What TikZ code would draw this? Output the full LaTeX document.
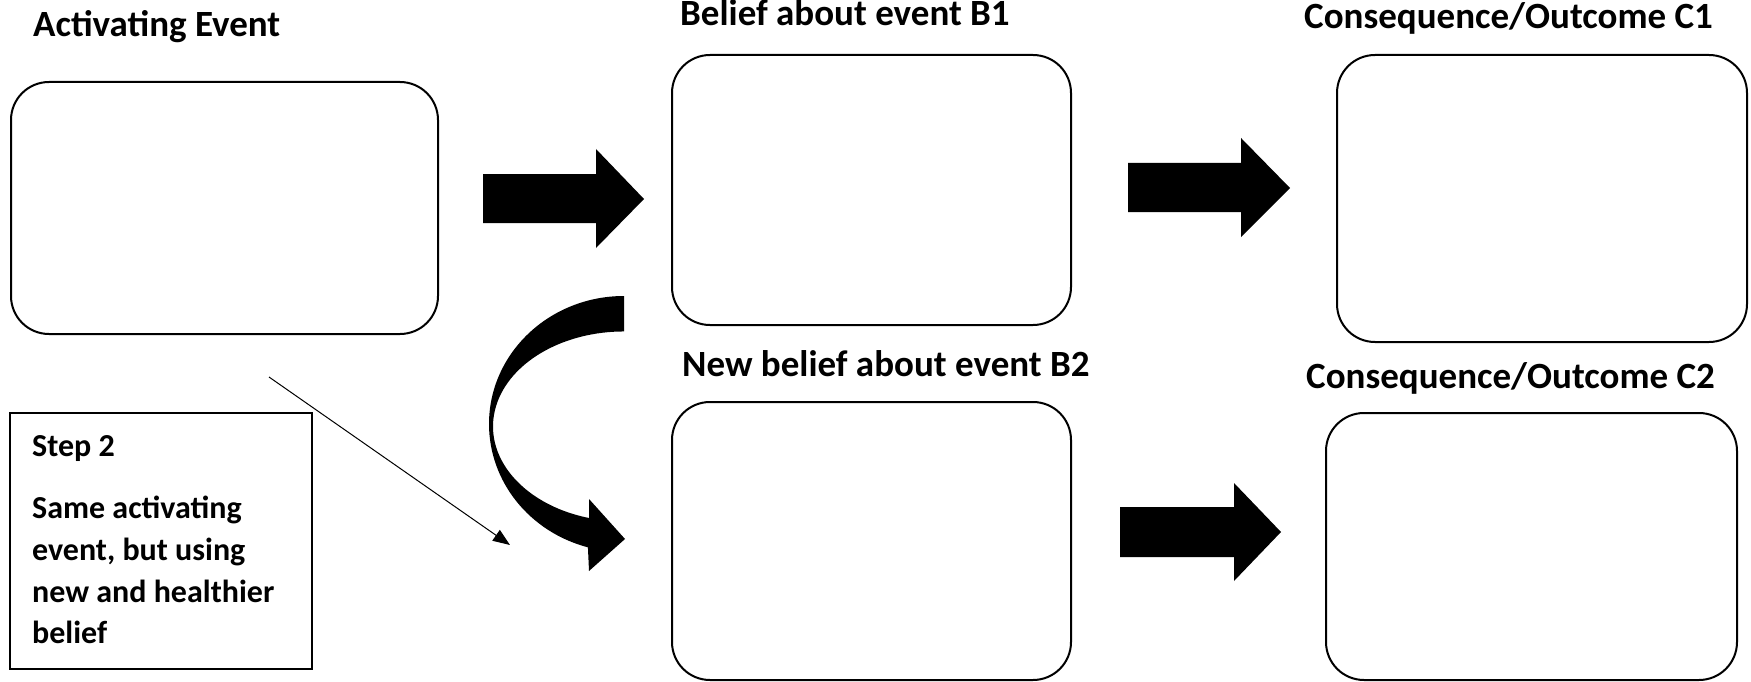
\documentclass[tikz,border=0pt]{standalone}
\usepackage{fontspec}
\setmainfont{Carlito}
\usetikzlibrary{arrows.meta}
\tikzset{
  rbox/.style={draw=black, line width=2pt, rounded corners=38pt, fill=white, inner sep=0pt},
  sbox/.style={draw=black, line width=2pt, fill=white, inner sep=0pt},
  title/.style={anchor=base west, inner sep=0pt, font=\fontsize{37}{44}\selectfont\bfseries},
  steptxt/.style={anchor=base west, inner sep=0pt, font=\fontsize{32}{40}\selectfont\bfseries},
  blockarrow/.style={fill=black},
  thinarrow/.style={draw=black, line width=1pt, -{Triangle[length=17pt,width=13pt]}}
}
\begin{document}
\begin{tikzpicture}[x=1pt,y=-1pt]
\useasboundingbox[fill=white] (0,0) rectangle (1751,682);
% boxes
\node[rbox, minimum width=427pt, minimum height=252pt] (A) at (224.5,208) {};
\node[rbox, minimum width=399pt, minimum height=270pt] (B1) at (871.5,190) {};
\node[rbox, minimum width=410pt, minimum height=287pt] (C1) at (1542,198.5) {};
\node[rbox, minimum width=399pt, minimum height=278pt] (B2) at (871.5,541) {};
\node[rbox, minimum width=411pt, minimum height=267pt] (C2) at (1531.5,546.5) {};
\node[sbox, minimum width=302pt, minimum height=256pt] (S) at (161,541) {};
% titles
\node[title] (tA) at (33,37) {Activating Event};
\node[title] (tB1) at (680,26) {Belief about event B1};
\node[title] (tC1) at (1304,29) {Consequence/Outcome C1};
\node[title] (tB2) at (682,376) {New belief about event B2};
\node[title] (tC2) at (1306,388) {Consequence/Outcome C2};
% step text
\node[steptxt] (s1) at (32,456) {Step 2};
\node[steptxt] (s2) at (32,518) {Same activating};
\node[steptxt] (s3) at (32,560) {event, but using};
\node[steptxt] (s4) at (32,602) {new and healthier};
\node[steptxt] (s5) at (32,643) {belief};
% block arrows
\fill[blockarrow] (483,174) -- (596,174) -- (596,149) -- (644,199) -- (596,248) -- (596,223) -- (483,223) -- cycle;
\fill[blockarrow] (1128,163) -- (1241,163) -- (1241,138) -- (1290,188) -- (1241,237) -- (1241,212) -- (1128,212) -- cycle;
\fill[blockarrow] (1120,507) -- (1234,507) -- (1234,483) -- (1281,532) -- (1234,581) -- (1234,557) -- (1120,557) -- cycle;
% curved arrow
\fill[blockarrow] (624,296) arc[start angle=270, end angle=105.5, x radius=135, y radius=128]
  -- (589,571) -- (625,539) -- (589,499) -- (589,518)
  arc[start angle=105.5, end angle=270, x radius=131, y radius=95] -- cycle;
% thin arrow
\coordinate (p0) at (269,377);
\coordinate (p1) at (510,545);
\draw[thinarrow] (p0) -- (p1);
\end{tikzpicture}
\end{document}
